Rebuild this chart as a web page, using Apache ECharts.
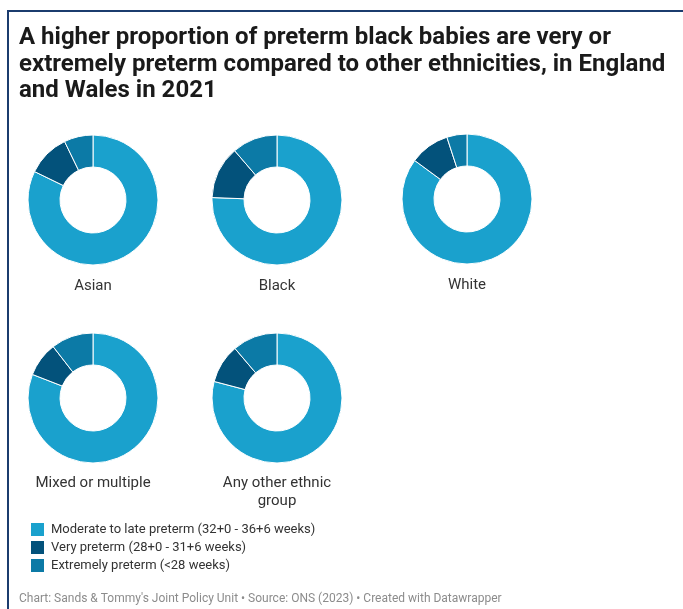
<!DOCTYPE html>
<html>
<head>
<meta charset="utf-8">
<script src="https://cdn.jsdelivr.net/npm/echarts@6/dist/echarts.min.js"></script>
<style>
html,body{margin:0;padding:0;background:#fff;}
#chart{width:683px;height:609px;}
</style>
</head>
<body>
<div id="chart"></div>
<script>
const groups = ['Asian', 'Black', 'White', 'Mixed or multiple', 'Any other ethnic\ngroup'];
const categories = ['Moderate to late preterm (32+0 - 36+6 weeks)', 'Very preterm (28+0 - 31+6 weeks)', 'Extremely preterm (<28 weeks)'];
const moderate = [82.2, 75.6, 85.1, 80.9, 79.1];
const veryPreterm = [10.6, 13.1, 9.9, 8.6, 9.7];
const extremely = [7.2, 11.3, 5.0, 10.5, 11.2];
const colors = ['#1aa1cd', '#03527b', '#0c7aa6'];

const centers = [[93, 200], [277, 200], [467, 199], [93, 398], [277, 398]];
const labelY = [285, 285, 284, 482, 482];

const chart = echarts.init(document.getElementById('chart'), null, {renderer: 'canvas'});

const series = groups.map((g, i) => ({
  type: 'pie',
  name: g,
  center: centers[i],
  radius: [33, 65],
  startAngle: 90,
  clockwise: true,
  silent: true,
  label: {show: false},
  labelLine: {show: false},
  itemStyle: {borderColor: '#ffffff', borderWidth: 1},
  data: [
    {name: categories[0], value: moderate[i]},
    {name: categories[1], value: veryPreterm[i]},
    {name: categories[2], value: extremely[i]}
  ]
}));

const titles = [{
  text: 'A higher proportion of preterm black babies are very or\nextremely preterm compared to other ethnicities, in England\nand Wales in 2021',
  left: 19, top: 25, padding: 0,
  textStyle: {fontFamily: 'Roboto', fontWeight: 'bold', fontSize: 24, lineHeight: 26.5, color: '#1a1a1a'}
}];
groups.forEach((g, i) => {
  titles.push({
    text: g,
    left: centers[i][0], top: labelY[i] - 8, padding: 0,
    textAlign: 'center',
    textStyle: {fontFamily: 'Roboto', fontWeight: 'normal', fontSize: 15, lineHeight: 18, color: '#333333', align: 'center'}
  });
});
titles.push({
  text: 'Chart: Sands & Tommy\'s Joint Policy Unit \u2022 Source: ONS (2023) \u2022 Created with Datawrapper',
  left: 19, top: 593, padding: 0,
  textStyle: {fontFamily: 'Roboto', fontWeight: 'normal', fontSize: 12, color: '#8c8c8c'}
});

chart.setOption({
  animation: false,
  color: colors,
  title: titles,
  legend: {
    orient: 'vertical',
    left: 29, top: 521, padding: 0,
    itemWidth: 15, itemHeight: 15, itemGap: 1,
    icon: 'rect',
    selectedMode: false,
    data: categories,
    textStyle: {fontFamily: 'Roboto', fontSize: 13, lineHeight: 15, color: '#333333', padding: [0, 0, 0, 1]}
  },
  graphic: [
    {type: 'line', shape: {x1: 7, y1: 11, x2: 683, y2: 11}, style: {stroke: '#1b3c6e', lineWidth: 2}},
    {type: 'line', shape: {x1: 8, y1: 10, x2: 8, y2: 609}, style: {stroke: '#1b3c6e', lineWidth: 2}}
  ],
  series: series
});
</script>
</body>
</html>
